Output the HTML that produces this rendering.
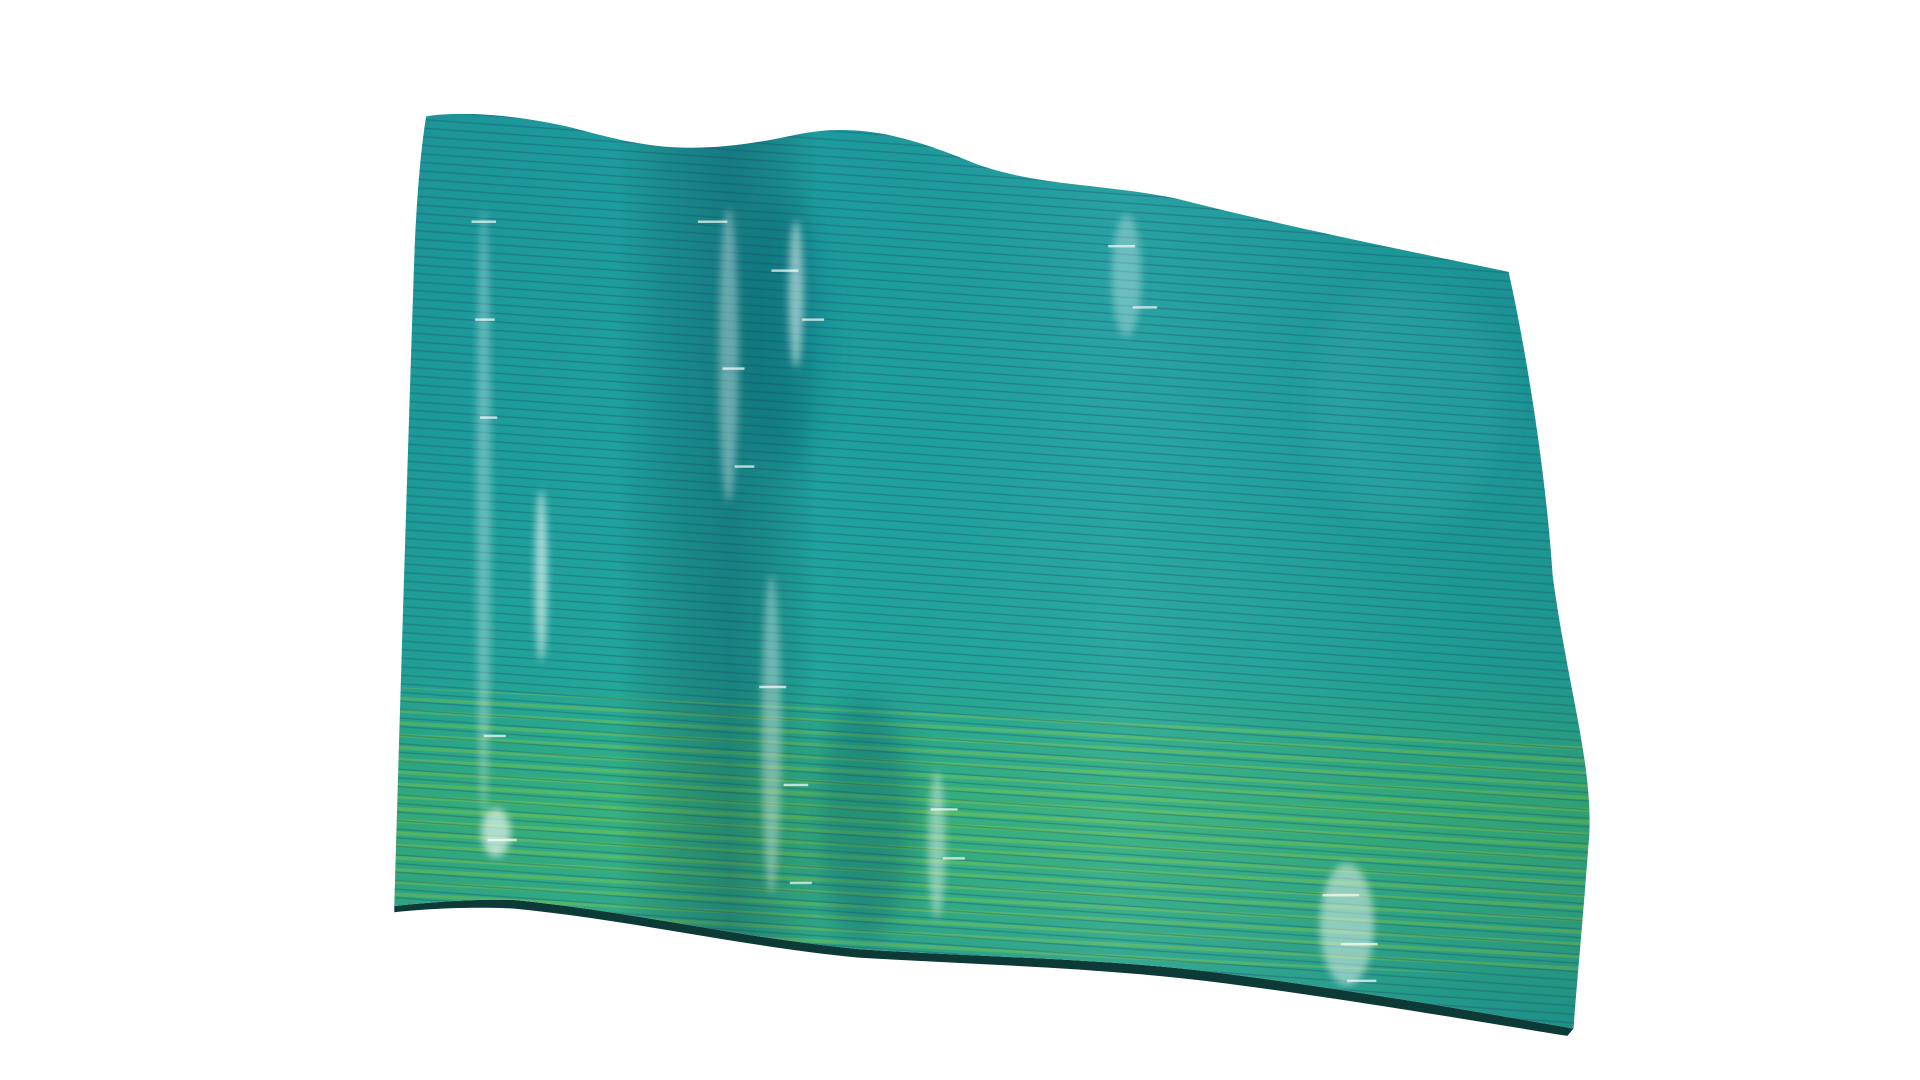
<!DOCTYPE html>
<html><head><meta charset="utf-8"><title>Surface</title>
<style>html,body{margin:0;padding:0;background:#fff;width:1920px;height:1080px;overflow:hidden}svg{display:block}</style>
</head><body>
<svg width="1920" height="1080" viewBox="0 0 1568 882" preserveAspectRatio="none" xmlns="http://www.w3.org/2000/svg">
<defs>
<linearGradient id="vg" x1="0" y1="0" x2="0" y2="1">
<stop offset="0" stop-color="#1e9a9c"/>
<stop offset="0.35" stop-color="#1ea09e"/>
<stop offset="0.6" stop-color="#22a59a"/>
<stop offset="0.75" stop-color="#35b07e"/>
<stop offset="0.88" stop-color="#2ea88a"/>
<stop offset="1" stop-color="#1d9a94"/>
</linearGradient>
<linearGradient id="hg" x1="0" y1="0" x2="1" y2="0">
<stop offset="0" stop-color="#000" stop-opacity="0.05"/>
<stop offset="0.2" stop-color="#000" stop-opacity="0"/>
<stop offset="0.29" stop-color="#003040" stop-opacity="0.3"/>
<stop offset="0.36" stop-color="#000" stop-opacity="0"/>
<stop offset="0.6" stop-color="#fff" stop-opacity="0.05"/>
<stop offset="0.85" stop-color="#000" stop-opacity="0.05"/>
<stop offset="1" stop-color="#000" stop-opacity="0.1"/>
</linearGradient>
<pattern id="stripes" width="8" height="7" patternUnits="userSpaceOnUse" patternTransform="skewY(4)">
<rect width="8" height="1" y="3" fill="#1a3f70" opacity="0.35"/>
</pattern>
<pattern id="gstripes" width="8" height="10" patternUnits="userSpaceOnUse" patternTransform="skewY(3)">
<rect width="8" height="3" y="2" fill="#8fd040" opacity="0.35"/>
</pattern>
<filter id="blur"><feGaussianBlur stdDeviation="3"/></filter>
<filter id="blur2"><feGaussianBlur stdDeviation="12"/></filter>
<clipPath id="cp"><path d="M348,95 C380,90 430,95 470,105 C520,118 560,130 650,110 C700,100 740,110 800,135 C850,152 900,150 960,162 C1050,185 1150,205 1232,222 C1245,280 1262,380 1268,470 C1280,560 1300,620 1298,680 C1292,760 1288,800 1285,840 C1200,825 1100,808 1000,795 C900,782 800,782 700,775 C600,765 520,745 420,735 C380,734 340,738 322,740 C326,600 332,400 338,220 C340,160 344,120 348,95 Z"/></clipPath>
</defs>
<path d="M322,740 C340,738 380,734 420,735 C520,745 600,765 700,775 C800,782 900,782 1000,795 C1100,808 1200,825 1285,840 L1280,846 C1200,833 1100,816 1000,803 C900,790 800,788 700,782 C600,772 520,752 420,742 C380,740 340,743 322,745 Z" fill="#0d3a36"/>
<g clip-path="url(#cp)">
<rect x="300" y="80" width="1020" height="780" fill="url(#vg)"/>
<path d="M300,560 L1320,610 L1320,800 L300,760 Z" fill="url(#gstripes)"/>
<rect x="300" y="80" width="1020" height="780" fill="url(#hg)"/>
<g filter="url(#blur2)">
<ellipse cx="640" cy="270" rx="35" ry="110" fill="#0c5a6a" opacity="0.3"/>
<ellipse cx="705" cy="670" rx="40" ry="100" fill="#0c4a5a" opacity="0.3"/>
<ellipse cx="1150" cy="330" rx="80" ry="100" fill="#60d0d0" opacity="0.12"/>
</g>
<rect x="300" y="80" width="1020" height="780" fill="url(#stripes)"/>
<g fill="#fff" filter="url(#blur)">
<ellipse cx="395" cy="420" rx="6" ry="250" opacity="0.3"/>
<ellipse cx="442" cy="470" rx="5" ry="70" opacity="0.6"/>
<ellipse cx="595" cy="290" rx="8" ry="120" opacity="0.35"/>
<ellipse cx="650" cy="240" rx="6" ry="60" opacity="0.5"/>
<ellipse cx="630" cy="600" rx="8" ry="130" opacity="0.35"/>
<ellipse cx="765" cy="690" rx="7" ry="60" opacity="0.4"/>
<ellipse cx="920" cy="225" rx="12" ry="50" opacity="0.3"/>
<ellipse cx="1100" cy="755" rx="22" ry="50" opacity="0.45"/>
<ellipse cx="405" cy="680" rx="12" ry="20" opacity="0.6"/>
</g>
<g fill="#fff" opacity="0.7">
<rect x="385" y="180" width="20" height="2"/><rect x="388" y="260" width="16" height="2"/><rect x="392" y="340" width="14" height="2"/><rect x="395" y="600" width="18" height="2"/><rect x="398" y="685" width="24" height="2"/>
<rect x="570" y="180" width="24" height="2"/><rect x="590" y="300" width="18" height="2"/><rect x="600" y="380" width="16" height="2"/><rect x="630" y="220" width="22" height="2"/><rect x="655" y="260" width="18" height="2"/>
<rect x="620" y="560" width="22" height="2"/><rect x="640" y="640" width="20" height="2"/><rect x="645" y="720" width="18" height="2"/><rect x="760" y="660" width="22" height="2"/><rect x="770" y="700" width="18" height="2"/>
<rect x="905" y="200" width="22" height="2"/><rect x="925" y="250" width="20" height="2"/><rect x="1080" y="730" width="30" height="2"/><rect x="1095" y="770" width="30" height="2"/><rect x="1100" y="800" width="24" height="2"/>
</g>
</g>
</svg>
</body></html>
